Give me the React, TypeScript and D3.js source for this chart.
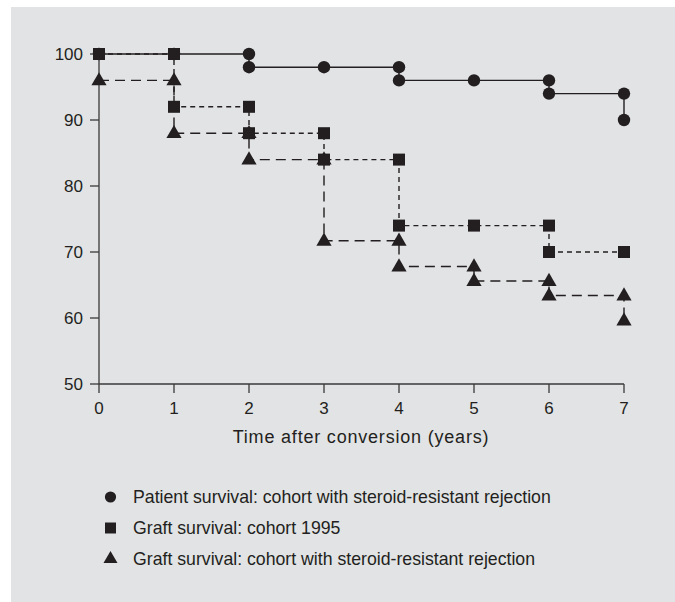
import React from "react";
import { scaleLinear, line, symbol, symbolCircle, symbolSquare, symbolTriangle } from "d3";

// Kaplan-Meier style step data (drops = two points at the same year)
const patientYears = [0, 1, 2, 2, 3, 4, 4, 5, 6, 6, 7, 7];
const patientValues = [100, 100, 100, 98, 98, 98, 96, 96, 96, 94, 94, 90];

const graft1995Years = [0, 1, 1, 2, 2, 3, 3, 4, 4, 5, 6, 6, 7];
const graft1995Values = [100, 100, 92, 92, 88, 88, 84, 84, 74, 74, 74, 70, 70];

const graftSrrYears = [0, 1, 1, 2, 2, 3, 3, 4, 4, 5, 5, 6, 6, 7, 7];
const graftSrrValues = [96, 96, 88, 88, 84, 84, 71.7, 71.7, 67.8, 67.8, 65.6, 65.6, 63.4, 63.4, 59.6];

const xTicks = [0, 1, 2, 3, 4, 5, 6, 7];
const yTicks = [50, 60, 70, 80, 90, 100];
const xTitle = "Time after conversion (years)";
const legendLabels = [
  "Patient survival: cohort with steroid-resistant rejection",
  "Graft survival: cohort 1995",
  "Graft survival: cohort with steroid-resistant rejection",
];

const W = 675;
const H = 602;
const ink = "#231f20";
const axisColor = "#3a3a3a";
const font = "'Liberation Sans', Arial, sans-serif";

export default function App() {
  const x = scaleLinear().domain([0, 7]).range([99, 624]);
  const y = scaleLinear().domain([50, 100]).range([384, 54]);

  const toPts = (ts: number[], vs: number[]) => ts.map((t, i) => [t, vs[i]] as [number, number]);
  const path = line<[number, number]>()
    .x((d) => x(d[0]))
    .y((d) => y(d[1]));

  const circle = symbol().type(symbolCircle).size(Math.PI * 6.2 * 6.2)();
  const square = symbol().type(symbolSquare).size(12 * 12)();
  const tri = symbol().type(symbolTriangle).size(100)();
  const circleL = symbol().type(symbolCircle).size(Math.PI * 5.6 * 5.6)();
  const squareL = symbol().type(symbolSquare).size(11 * 11)();
  const triL = symbol().type(symbolTriangle).size(85)();

  const patient = toPts(patientYears, patientValues);
  const g1995 = toPts(graft1995Years, graft1995Values);
  const gSrr = toPts(graftSrrYears, graftSrrValues);

  return (
    <svg
      width={W}
      height={H}
      style={{ position: "absolute", left: 0, top: 0, display: "block" }}
      fontFamily={font}
    >
      <rect x={11} y={7} width={W - 11} height={H - 7} fill="#e2e3e5" />

      {/* axes */}
      <line x1={x(0)} x2={x(7)} y1={y(50)} y2={y(50)} stroke={axisColor} strokeWidth={1.3} />
      <line x1={x(0)} x2={x(0)} y1={y(50)} y2={y(100)} stroke={axisColor} strokeWidth={1.3} />
      {xTicks.map((t) => (
        <g key={"x" + t}>
          <line x1={x(t)} x2={x(t)} y1={y(50)} y2={y(50) + 9} stroke={axisColor} strokeWidth={1.3} />
          <text x={x(t)} y={414} textAnchor="middle" fontSize={17} fill={ink}>
            {t}
          </text>
        </g>
      ))}
      {yTicks.map((v) => (
        <g key={"y" + v}>
          <line x1={x(0) - 9} x2={x(0)} y1={y(v)} y2={y(v)} stroke={axisColor} strokeWidth={1.3} />
          <text x={83} y={y(v) + 6.3} textAnchor="end" fontSize={17} fill={ink}>
            {v}
          </text>
        </g>
      ))}
      <text x={361} y={443} textAnchor="middle" fontSize={18} letterSpacing={0.8} fill={ink}>
        {xTitle}
      </text>

      {/* lines */}
      <path d={path(gSrr) || ""} fill="none" stroke={ink} strokeWidth={1.4} strokeDasharray="10,6" />
      <path d={path(patient) || ""} fill="none" stroke={ink} strokeWidth={1.4} />
      <path d={path(g1995) || ""} fill="none" stroke={ink} strokeWidth={1.4} strokeDasharray="5,4" />

      {/* markers: triangles under circles under squares */}
      {gSrr.map((d, i) => (
        <path key={"t" + i} d={tri || ""} transform={`translate(${x(d[0])},${y(d[1]) + 0.5})`} fill={ink} />
      ))}
      {patient.map((d, i) => (
        <path key={"c" + i} d={circle || ""} transform={`translate(${x(d[0])},${y(d[1])})`} fill={ink} />
      ))}
      {g1995.map((d, i) => (
        <path key={"s" + i} d={square || ""} transform={`translate(${x(d[0])},${y(d[1])})`} fill={ink} />
      ))}

      {/* legend */}
      {legendLabels.map((label, i) => {
        const cy = 497 + i * 31;
        const shape = [circleL, squareL, triL][i];
        return (
          <g key={"l" + i}>
            <path d={shape || ""} transform={`translate(110.5,${cy})`} fill={ink} />
            <text x={133} y={cy + 6.3} fontSize={17.7} fill={ink}>
              {label}
            </text>
          </g>
        );
      })}
    </svg>
  );
}
